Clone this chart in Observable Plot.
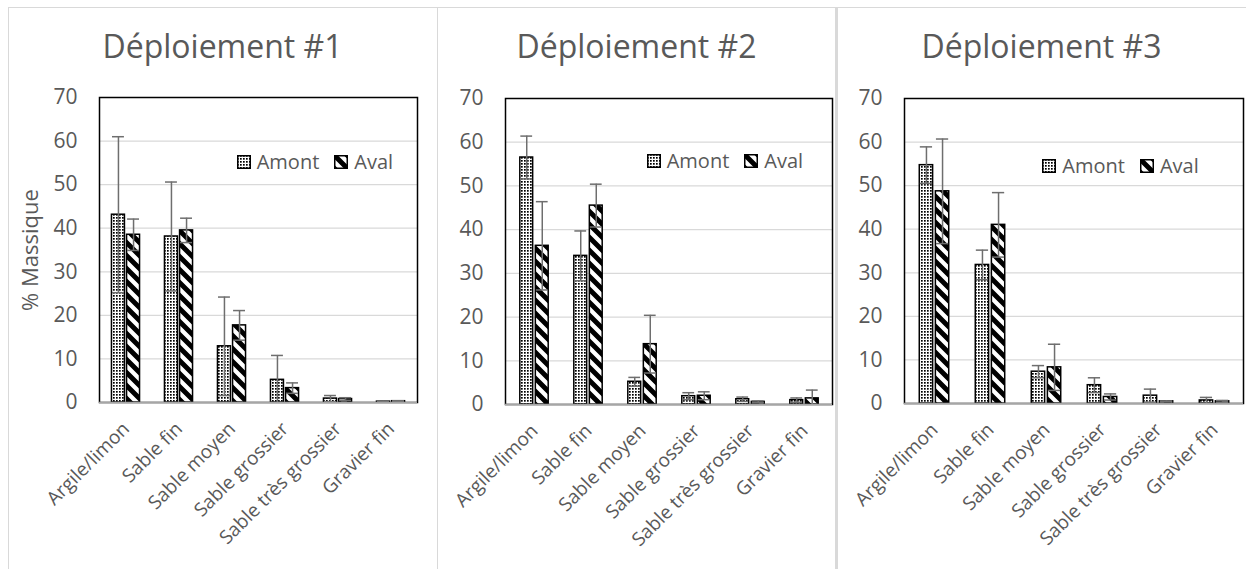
<!DOCTYPE html>
<html><head><meta charset="utf-8">
<script src="https://cdn.jsdelivr.net/npm/d3@7"></script>
<script src="https://cdn.jsdelivr.net/npm/@observablehq/plot@0.6"></script>
<style>
body{margin:0;background:#fff;font-family:"Open Sans",sans-serif;}
#root{position:relative;width:1246px;height:569px;overflow:hidden;background:#fff;}
.panel{position:absolute;top:7px;height:562px;}
.panel svg{position:absolute;left:0;top:0;overflow:visible;}
.title{position:absolute;left:0;width:100%;top:19px;line-height:40px;text-align:center;color:#595959;font-size:32px;white-space:nowrap;}
.legend{position:absolute;display:flex;align-items:center;color:#595959;font-size:20px;white-space:nowrap;line-height:24px;}
.legend svg{position:static;margin-right:6px;}
.legend span{margin-right:15px;}
.bd{position:absolute;background:#d9d9d9;}
</style></head><body>
<svg width="0" height="0" style="position:absolute">
  <defs>
    <pattern id="pAmont" patternUnits="userSpaceOnUse" width="3" height="3">
      <rect width="3" height="3" fill="white"/>
      <rect width="1.7" height="1.7" fill="black"/>
    </pattern>
    <pattern id="pAval" patternUnits="userSpaceOnUse" width="13" height="13">
      <rect width="13" height="13" fill="white"/>
      <path d="M0,0 L3.5,0 L13,9.5 L13,13 L9.5,13 L0,3.5 Z M9.5,0 L13,0 L13,3.5 Z M0,9.5 L3.5,13 L0,13 Z" fill="black"/>
    </pattern>
  </defs>
</svg>
<div id="root"></div>
<script>
// ---------- data ----------
const categories = ["Argile/limon", "Sable fin", "Sable moyen", "Sable grossier", "Sable très grossier", "Gravier fin"];
const seriesNames = ["Amont", "Aval"];
const yTicks = [0, 10, 20, 30, 40, 50, 60, 70];
const gridTicks = [10, 20, 30, 40, 50, 60];
const titles = ["Déploiement #1", "Déploiement #2", "Déploiement #3"];
const yTitle = "% Massique";

const d1Amont    = [43.1, 38.1, 12.9, 5.2, 0.9, 0.2];
const d1AmontErr = [17.9, 12.5, 11.3, 5.6, 0.7, 0.1];
const d1Aval     = [38.5, 39.5, 17.7, 3.3, 0.8, 0.3];
const d1AvalErr  = [3.6, 2.8, 3.4, 1.2, 0.3, 0.1];

const d2Amont    = [56.5, 34.0, 5.2, 1.9, 1.2, 1.0];
const d2AmontErr = [4.9, 5.7, 1.0, 0.8, 0.5, 0.5];
const d2Aval     = [36.3, 45.5, 13.8, 2.0, 0.6, 1.4];
const d2AvalErr  = [10.1, 4.9, 6.6, 0.9, 0.2, 1.9];

const d3Amont    = [54.7, 31.8, 7.3, 4.2, 1.8, 0.7];
const d3AmontErr = [4.2, 3.4, 1.4, 1.7, 1.5, 0.7];
const d3Aval     = [48.7, 41.0, 8.3, 1.5, 0.5, 0.5];
const d3AvalErr  = [12.0, 7.4, 5.3, 0.7, 0.1, 0.2];

const dataSets = [
  {amont: d1Amont, amontErr: d1AmontErr, aval: d1Aval, avalErr: d1AvalErr},
  {amont: d2Amont, amontErr: d2AmontErr, aval: d2Aval, avalErr: d2AvalErr},
  {amont: d3Amont, amontErr: d3AmontErr, aval: d3Aval, avalErr: d3AvalErr}
];

// ---------- layout ----------
const layouts = [
  {left: 8,   width: 429, ml: 91, mr: 20, mt: 90, mb: 167, yLabel: true,  lx: 228.7, ly: 154.7},
  {left: 437, width: 399, ml: 68, mr: 4,  mt: 91, mb: 165, yLabel: false, lx: 209.7, ly: 153.6},
  {left: 837, width: 409, ml: 67, mr: 3,  mt: 91, mb: 166, yLabel: false, lx: 205.3, ly: 158.6}
];
const H = 562;
const errColor = "#6e6e6e";
const textColor = "#595959";
const fills = {Amont: "url(#pAmont)", Aval: "url(#pAval)"};

const root = document.getElementById("root");

layouts.forEach((L, k) => {
  const D = dataSets[k];
  const plotW = L.width - L.ml - L.mr;
  const bw = plotW / categories.length;
  const barW = bw * 0.245, gap = bw * 0.04, capW = barW * 0.92;
  const centers = {Amont: bw / 2 - gap / 2 - barW / 2, Aval: bw / 2 + gap / 2 + barW / 2};
  const rows = {
    Amont: categories.map((c, i) => ({cat: c, v: D.amont[i], e: D.amontErr[i]})),
    Aval: categories.map((c, i) => ({cat: c, v: D.aval[i], e: D.avalErr[i]}))
  };

  const marks = [
    Plot.ruleY(gridTicks, {stroke: "#d9d9d9", strokeWidth: 1.3}),
    Plot.frame({stroke: "black", strokeWidth: 1.5})
  ];
  for (const s of seriesNames) {
    const c = centers[s];
    marks.push(Plot.barY(rows[s], {
      x: "cat", y: "v", fill: fills[s], stroke: "black", strokeWidth: 1.5,
      insetLeft: c - barW / 2, insetRight: bw - c - barW / 2
    }));
  }
  for (const s of seriesNames) {
    const c = centers[s];
    marks.push(Plot.ruleX(rows[s], {
      x: "cat", y1: d => Math.max(0, d.v - d.e), y2: d => d.v + d.e,
      dx: c - bw / 2, stroke: errColor, strokeWidth: 1.5
    }));
    marks.push(Plot.tickY(rows[s], {
      x: "cat", y: d => d.v + d.e, stroke: errColor, strokeWidth: 1.5,
      insetLeft: c - capW / 2, insetRight: bw - c - capW / 2
    }));
    marks.push(Plot.tickY(rows[s].filter(d => d.v - d.e > 0), {
      x: "cat", y: d => d.v - d.e, stroke: errColor, strokeWidth: 1.5,
      insetLeft: c - capW / 2, insetRight: bw - c - capW / 2
    }));
  }
  marks.push(Plot.ruleY([0], {stroke: "#a6a6a6", strokeWidth: 1.5}));
  // category labels, rotated -45°
  marks.push(Plot.text(categories, {
    x: d => d, text: d => d, frameAnchor: "bottom", rotate: -45,
    textAnchor: "end", lineAnchor: "top", dx: -5, dy: 18, fontSize: 19, fill: textColor
  }));
  if (L.yLabel) {
    marks.push(Plot.text([yTitle], {text: d => d, frameAnchor: "left", textAnchor: "middle", dx: -69, rotate: -90, fontSize: 22, fill: textColor}));
  }

  const chart = Plot.plot({
    width: L.width, height: H,
    marginLeft: L.ml, marginRight: L.mr, marginTop: L.mt, marginBottom: L.mb,
    style: {fontFamily: "Open Sans", fontSize: "21px", color: textColor, background: "transparent", overflow: "visible"},
    x: {domain: categories, padding: 0, axis: null},
    y: {domain: [0, 70], ticks: yTicks, tickSize: 0, tickPadding: 22, label: null},
    marks
  });

  const panel = document.createElement("div");
  panel.className = "panel";
  panel.style.left = L.left + "px";
  panel.style.width = L.width + "px";
  panel.appendChild(chart);

  const t = document.createElement("div");
  t.className = "title";
  t.textContent = titles[k];
  panel.appendChild(t);

  const lg = document.createElement("div");
  lg.className = "legend";
  lg.style.left = L.lx + "px";
  lg.style.top = (L.ly - 12) + "px";
  for (const s of seriesNames) {
    const ns = "http://www.w3.org/2000/svg";
    const sw = document.createElementNS(ns, "svg");
    sw.setAttribute("width", 14); sw.setAttribute("height", 14);
    const r = document.createElementNS(ns, "rect");
    r.setAttribute("x", 0.75); r.setAttribute("y", 0.75);
    r.setAttribute("width", 12.5); r.setAttribute("height", 12.5);
    r.setAttribute("fill", fills[s]); r.setAttribute("stroke", "black"); r.setAttribute("stroke-width", 1.5);
    sw.appendChild(r);
    lg.appendChild(sw);
    const sp = document.createElement("span");
    sp.textContent = s;
    lg.appendChild(sp);
  }
  panel.appendChild(lg);
  root.appendChild(panel);
});

// chart borders
[[8, 7, 1238, 1], [8, 7, 1, 562], [437, 7, 1, 562], [835, 7, 3, 562]].forEach(([x, y, w, h]) => {
  const b = document.createElement("div");
  b.className = "bd";
  Object.assign(b.style, {left: x + "px", top: y + "px", width: w + "px", height: h + "px"});
  root.appendChild(b);
});
</script>
</body></html>
